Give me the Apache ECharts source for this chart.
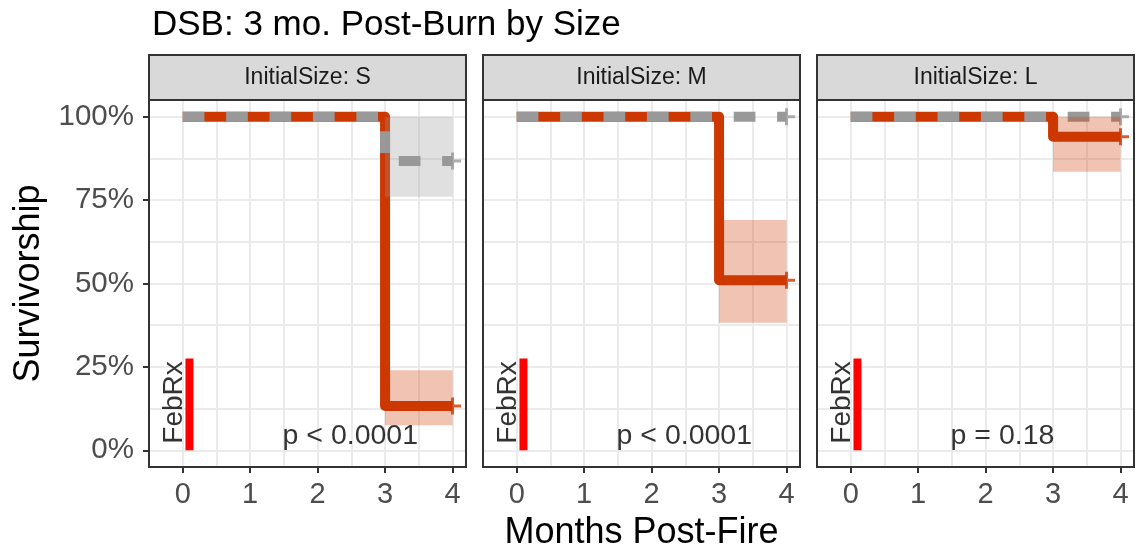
<!DOCTYPE html>
<html>
<head>
<meta charset="utf-8">
<title>DSB: 3 mo. Post-Burn by Size</title>
<script src="https://cdn.jsdelivr.net/npm/echarts@6/dist/echarts.min.js"></script>
<style>
  html, body { margin: 0; padding: 0; background: #fff; }
  #chart { width: 1138px; height: 554px; }
</style>
</head>
<body>
<div id="chart"></div>
<script>
// values: months post-fire vs. survivorship (%)
const sizes = ["S", "M", "L"];
const stepMonths = [0, 3, 4];
const burnedSurv = [
  [100, 13.3, 13.3],
  [100, 51, 51],
  [100, 94, 94],
];
const controlSurv = [
  [100, 86.7, 86.7],
  [100, 100, 100],
  [100, 100, 100],
];
const ciMonths = [3, 4];
const burnedCI = [[7.5, 24], [38.2, 69], [83.5, 100]];
const controlCI = [[76, 100], null, null];
const pLabels = ["p < 0.0001", "p < 0.0001", "p = 0.18"];
const febRxMonth = 0.1;
const febRxSpan = [0, 27.5];
const xTicks = [0, 1, 2, 3, 4];
const yTicks = [0, 25, 50, 75, 100];

const FONT = "'Liberation Sans', Arial, sans-serif";
const RED = "#CD3700";
const GREY = "#999999";
const panelLeft = [149, 483, 817];
const panelW = 317;
const panelTop = 100;
const panelH = 367;
const stripTop = 55;
const stripH = 45;
const PLUS = "path://M7,0h3v17h-3z M0,7h17v3h-17z";
const GRID_LINE = { show: true, lineStyle: { color: "#ebebeb", width: 2 } };

const chart = echarts.init(document.getElementById("chart"), null, { renderer: "canvas" });

const grids = [];
const xAxes = [];
const yAxes = [];
const series = [];
const graphics = [];

sizes.forEach((size, i) => {
  grids.push({
    left: panelLeft[i], top: panelTop, width: panelW, height: panelH,
    show: false, containLabel: false, outerBoundsMode: "none",
  });

  // axes carrying ticks and labels
  xAxes[i] = {
    type: "value", gridIndex: i, min: -0.5, max: 4.2, interval: 0.5, position: "bottom",
    axisLine: { show: false, onZero: false },
    axisTick: { show: true, customValues: xTicks, length: 6, lineStyle: { color: "#333", width: 2 } },
    axisLabel: { customValues: xTicks, color: "#4d4d4d", fontSize: 29, margin: 13, fontFamily: FONT },
    splitLine: { show: false },
    name: i === 1 ? "Months Post-Fire" : "",
    nameLocation: "middle", nameGap: 48,
    nameTextStyle: { fontSize: 36, color: "#000", fontFamily: FONT },
  };
  yAxes[i] = {
    type: "value", gridIndex: i, min: -5, max: 105, position: "left",
    minInterval: 12.5, maxInterval: 12.5, splitNumber: 8,
    axisLine: { show: false, onZero: false },
    axisTick: { show: i === 0, customValues: yTicks, length: 6, lineStyle: { color: "#333", width: 2 } },
    axisLabel: {
      show: i === 0, customValues: yTicks, formatter: "{value}%",
      color: "#4d4d4d", fontSize: 29.5, margin: 15, fontFamily: FONT,
    },
    splitLine: { show: false },
    name: i === 0 ? "Survivorship" : "",
    nameLocation: "middle", nameGap: 102,
    nameTextStyle: { fontSize: 36, color: "#000", fontFamily: FONT },
  };

  // companion axes that only draw the major + minor grid
  xAxes[i + 3] = {
    type: "value", gridIndex: i, min: -0.5, max: 4.2, interval: 0.5, position: "top",
    axisLine: { show: false, onZero: false }, axisTick: { show: false }, axisLabel: { show: false },
    splitLine: GRID_LINE,
  };
  yAxes[i + 3] = {
    type: "value", gridIndex: i, min: -5, max: 105, position: "right",
    minInterval: 12.5, maxInterval: 12.5, splitNumber: 8,
    axisLine: { show: false, onZero: false }, axisTick: { show: false }, axisLabel: { show: false },
    splitLine: GRID_LINE,
  };

  // FebRx marker
  series.push({
    type: "line", xAxisIndex: i, yAxisIndex: i, z: 2, silent: true,
    symbol: "none",
    data: febRxSpan.map((v) => [febRxMonth, v]),
    lineStyle: { color: "#ff0000", width: 8, cap: "butt" },
  });

  // burned curve (solid) with its confidence band
  series.push({
    type: "line", xAxisIndex: i, yAxisIndex: i, z: 3, silent: true,
    step: "end", symbol: "none",
    data: stepMonths.map((m, k) => [m, burnedSurv[i][k]]),
    lineStyle: { color: RED, width: 10, cap: "butt", join: "round" },
    markArea: {
      silent: true, z: 10,
      itemStyle: { color: "rgba(205,55,0,0.3)" },
      data: [[{ coord: [ciMonths[0], burnedCI[i][0]] }, { coord: [ciMonths[1], burnedCI[i][1]] }]],
    },
  });

  // control curve (dashed) with its confidence band
  series.push({
    type: "line", xAxisIndex: i, yAxisIndex: i, z: 4, silent: true,
    step: "end", symbol: "none",
    data: stepMonths.map((m, k) => [m, controlSurv[i][k]]),
    lineStyle: { color: GREY, width: 10, type: [21.7, 21.7], cap: "butt", join: "round" },
    markArea: controlCI[i] ? {
      silent: true, z: 10,
      itemStyle: { color: "rgba(153,153,153,0.3)" },
      data: [[{ coord: [ciMonths[0], controlCI[i][0]] }, { coord: [ciMonths[1], controlCI[i][1]] }]],
    } : undefined,
  });

  // censor marks at the last time point
  const last = stepMonths.length - 1;
  series.push({
    type: "scatter", xAxisIndex: i, yAxisIndex: i, z: 6, silent: true,
    symbol: PLUS, symbolSize: 17,
    data: [
      { value: [stepMonths[last], burnedSurv[i][last]], itemStyle: { color: RED } },
      { value: [stepMonths[last], controlSurv[i][last]], itemStyle: { color: GREY } },
    ],
  });

  // texts: FebRx (rotated) and p-value
  series.push({
    type: "scatter", xAxisIndex: i, yAxisIndex: i, z: 7, silent: true,
    symbolSize: 0,
    data: [
      {
        value: [-0.126, 2], name: "FebRx",
        label: { show: true, position: "inside", rotate: 90, align: "left", verticalAlign: "middle",
          formatter: "{b}", fontSize: 28, color: "#000", fontFamily: FONT },
      },
      {
        value: [1.48, 4.2], name: pLabels[i],
        label: { show: true, position: "inside", align: "left", verticalAlign: "middle",
          formatter: "{b}", fontSize: 28.5, color: "#000", fontFamily: FONT },
      },
    ],
  });

  // facet strip and panel border
  graphics.push({
    type: "rect", z: 100,
    shape: { x: panelLeft[i], y: stripTop, width: panelW, height: stripH },
    style: { fill: "#d9d9d9", stroke: "#333", lineWidth: 2 },
  });
  graphics.push({
    type: "text", z: 101,
    x: panelLeft[i] + panelW / 2, y: stripTop + stripH / 2,
    style: {
      text: "InitialSize: " + size, fill: "#1a1a1a", font: "23px " + FONT,
      textAlign: "center", textVerticalAlign: "middle",
    },
  });
  graphics.push({
    type: "rect", z: 100,
    shape: { x: panelLeft[i], y: panelTop, width: panelW, height: panelH },
    style: { fill: "transparent", stroke: "#333", lineWidth: 2 },
  });
});

chart.setOption({
  animation: false,
  backgroundColor: "#fff",
  title: {
    text: "DSB: 3 mo. Post-Burn by Size",
    left: 147, top: 3,
    textStyle: { fontSize: 35, fontWeight: "normal", color: "#000", fontFamily: FONT },
  },
  grid: grids,
  xAxis: xAxes,
  yAxis: yAxes,
  series: series,
  graphic: graphics,
});
</script>
</body>
</html>
